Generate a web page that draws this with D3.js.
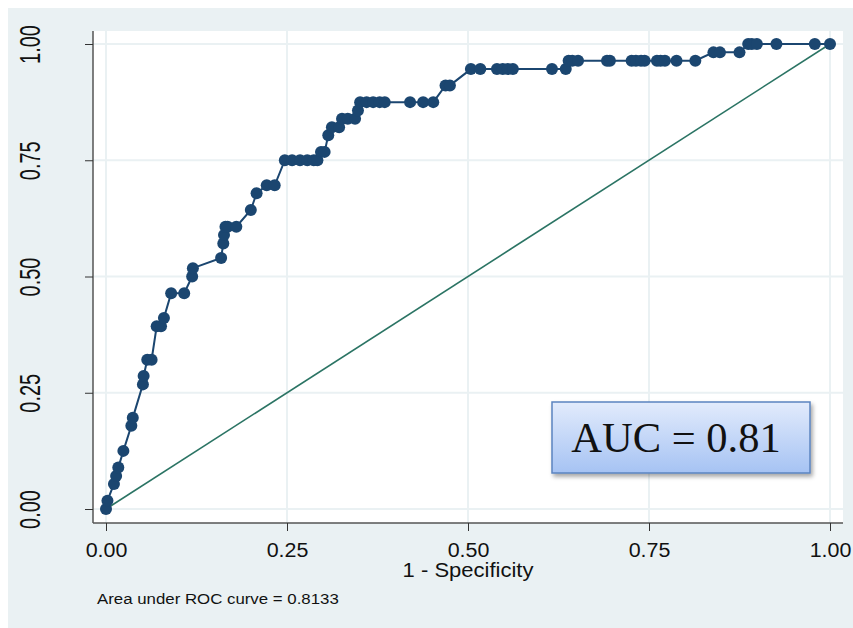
<!DOCTYPE html>
<html>
<head>
<meta charset="utf-8">
<script src="https://cdn.jsdelivr.net/npm/d3@7"></script>
<style>
  body { margin: 0; background: #fff; }
  text { font-family: "Liberation Sans", Arial, sans-serif; fill: #111; }
</style>
</head>
<body>
<div id="chart"></div>
<script>
const WIDTH = 853;
const HEIGHT = 628;
// the reference export is stretched a bit sideways, text follows that
const STRETCH = 1.1;

// ROC points (1 - specificity, sensitivity)
const fpr = [0, 0.002, 0.011, 0.014, 0.017, 0.024, 0.035, 0.037, 0.051, 0.052,
  0.057, 0.063, 0.070, 0.076, 0.080, 0.090, 0.108, 0.119, 0.120, 0.159,
  0.162, 0.163, 0.165, 0.168, 0.180, 0.200, 0.208, 0.222, 0.233,
  0.247, 0.257, 0.268, 0.278, 0.287, 0.292, 0.297, 0.302, 0.307, 0.312, 0.322,
  0.326, 0.334, 0.344, 0.348, 0.351, 0.360, 0.369, 0.378, 0.385, 0.420, 0.438, 0.452,
  0.469, 0.475, 0.504, 0.517, 0.540, 0.548, 0.555, 0.562, 0.616, 0.635,
  0.639, 0.644, 0.652, 0.692, 0.696, 0.726, 0.732, 0.739, 0.744, 0.761, 0.766, 0.772, 0.788, 0.814,
  0.839, 0.848, 0.875, 0.887, 0.892, 0.899, 0.926, 0.979, 1.0];
const tpr = [0, 0.018, 0.054, 0.071, 0.089, 0.125, 0.179, 0.196, 0.268, 0.286,
  0.321, 0.321, 0.393, 0.393, 0.411, 0.464, 0.464, 0.500, 0.518, 0.540,
  0.571, 0.589, 0.607, 0.607, 0.607, 0.643, 0.679, 0.696, 0.696,
  0.750, 0.750, 0.750, 0.750, 0.750, 0.750, 0.768, 0.768, 0.804, 0.821, 0.821,
  0.839, 0.839, 0.839, 0.857, 0.875, 0.875, 0.875, 0.875, 0.875, 0.875, 0.875, 0.875,
  0.911, 0.911, 0.946, 0.946, 0.946, 0.946, 0.946, 0.946, 0.946, 0.946,
  0.964, 0.964, 0.964, 0.964, 0.964, 0.964, 0.964, 0.964, 0.964, 0.964, 0.964, 0.964, 0.964, 0.964,
  0.982, 0.982, 0.982, 1.0, 1.0, 1.0, 1.0, 1.0, 1.0];
const rocPoints = fpr.map((f, i) => ({ x: f, y: tpr[i] }));

const tickValues = [0, 0.25, 0.5, 0.75, 1];
const xLabel = '1 - Specificity';
const noteText = 'Area under ROC curve = 0.8133';
const aucText = 'AUC = 0.81';

const svg = d3.select('#chart')
  .append('svg')
  .attr('width', WIDTH)
  .attr('height', HEIGHT);

// outer graph region (stata-ish pale background)
svg.append('rect')
  .attr('x', 8).attr('y', 8)
  .attr('width', WIDTH - 8).attr('height', HEIGHT - 8)
  .attr('fill', '#eaf1f3');

// plot region
const PLOT = { left: 93, right: 843, top: 31, bottom: 523 };
svg.append('rect')
  .attr('x', PLOT.left).attr('y', PLOT.top)
  .attr('width', PLOT.right - PLOT.left)
  .attr('height', PLOT.bottom - PLOT.top)
  .attr('fill', '#fff');

const xScale = d3.scaleLinear().domain([0, 1]).range([106, 830]);
const yScale = d3.scaleLinear().domain([0, 1]).range([509, 44]);
const fmt = d3.format('.2f');

// gridlines
svg.append('g').selectAll('line.vg')
  .data(tickValues).enter().append('line')
  .attr('x1', d => xScale(d)).attr('x2', d => xScale(d))
  .attr('y1', PLOT.top).attr('y2', PLOT.bottom)
  .attr('stroke', '#eaf1f3').attr('stroke-width', 2);
svg.append('g').selectAll('line.hg')
  .data(tickValues).enter().append('line')
  .attr('x1', PLOT.left).attr('x2', PLOT.right)
  .attr('y1', d => yScale(d)).attr('y2', d => yScale(d))
  .attr('stroke', '#eaf1f3').attr('stroke-width', 2);

// axes
const xAxis = d3.axisBottom(xScale).tickValues(tickValues).tickFormat(fmt).tickSize(8);
const yAxis = d3.axisLeft(yScale).tickValues(tickValues).tickFormat(fmt).tickSize(8);

const gx = svg.append('g')
  .attr('transform', `translate(0, ${PLOT.bottom})`)
  .call(xAxis);
gx.select('.domain').attr('d', `M${PLOT.left},0H${PLOT.right}`);
const gy = svg.append('g')
  .attr('transform', `translate(${PLOT.left}, 0)`)
  .call(yAxis);
gy.select('.domain').attr('d', `M0,${PLOT.top}V${PLOT.bottom}`);

[gx, gy].forEach(g => {
  g.select('.domain').attr('stroke', '#555').attr('stroke-width', 1.5);
  g.selectAll('.tick line').attr('stroke', '#333').attr('stroke-width', 1);
  g.selectAll('.tick text')
    .attr('font-family', '"Liberation Sans", Arial, sans-serif')
    .attr('fill', '#111');
});
gx.selectAll('.tick text')
  .attr('font-size', 19.5)
  .attr('dy', null).attr('y', 0)
  .attr('transform', `translate(0, 34) scale(${STRETCH}, 1)`);
// stata draws y labels vertical (and they come out wide in this export)
gy.selectAll('.tick text')
  .attr('font-size', 20)
  .attr('x', 0).attr('y', 0).attr('dy', null)
  .attr('text-anchor', 'middle')
  .attr('transform', 'translate(-53, 0) rotate(-90) scale(1, 1.5)');

// axis title and note
svg.append('text')
  .attr('transform', `translate(${(PLOT.left + PLOT.right) / 2}, 577) scale(${STRETCH}, 1)`)
  .attr('text-anchor', 'middle')
  .attr('font-size', 20)
  .text(xLabel);

svg.append('text')
  .attr('transform', `translate(97, 604) scale(${STRETCH}, 1)`)
  .attr('font-size', 15.3)
  .text(noteText);

// reference diagonal
svg.append('line')
  .attr('x1', xScale(0)).attr('y1', yScale(0))
  .attr('x2', xScale(1)).attr('y2', yScale(1))
  .attr('stroke', '#2b7464')
  .attr('stroke-width', 1.6);

// roc curve
const line = d3.line().x(d => xScale(d.x)).y(d => yScale(d.y));
svg.append('path')
  .datum(rocPoints)
  .attr('d', line)
  .attr('fill', 'none')
  .attr('stroke', '#1b4670')
  .attr('stroke-width', 2);

svg.append('g').selectAll('circle')
  .data(rocPoints).enter().append('circle')
  .attr('cx', d => xScale(d.x))
  .attr('cy', d => yScale(d.y))
  .attr('r', 6)
  .attr('fill', '#1b4670');

// AUC callout box
const defs = svg.append('defs');
const grad = defs.append('linearGradient')
  .attr('id', 'aucGrad')
  .attr('x1', 0).attr('y1', 0).attr('x2', 0).attr('y2', 1);
grad.append('stop').attr('offset', '0%').attr('stop-color', '#e2ebfc');
grad.append('stop').attr('offset', '100%').attr('stop-color', '#a6c3f3');
const shadow = defs.append('filter').attr('id', 'shadow')
  .attr('x', '-10%').attr('y', '-10%').attr('width', '130%').attr('height', '140%');
shadow.append('feDropShadow')
  .attr('dx', 2).attr('dy', 3).attr('stdDeviation', 2)
  .attr('flood-color', '#000').attr('flood-opacity', 0.35);

svg.append('rect')
  .attr('x', 552).attr('y', 402)
  .attr('width', 258).attr('height', 71)
  .attr('fill', 'url(#aucGrad)')
  .attr('stroke', '#5b84c0')
  .attr('stroke-width', 1.5)
  .attr('filter', 'url(#shadow)');

svg.append('text')
  .attr('x', 676)
  .attr('y', 452)
  .attr('text-anchor', 'middle')
  .attr('font-size', 42.5)
  .attr('fill', '#000')
  .style('font-family', '"Liberation Serif", "Times New Roman", serif')
  .text(aucText);
</script>
</body>
</html>
